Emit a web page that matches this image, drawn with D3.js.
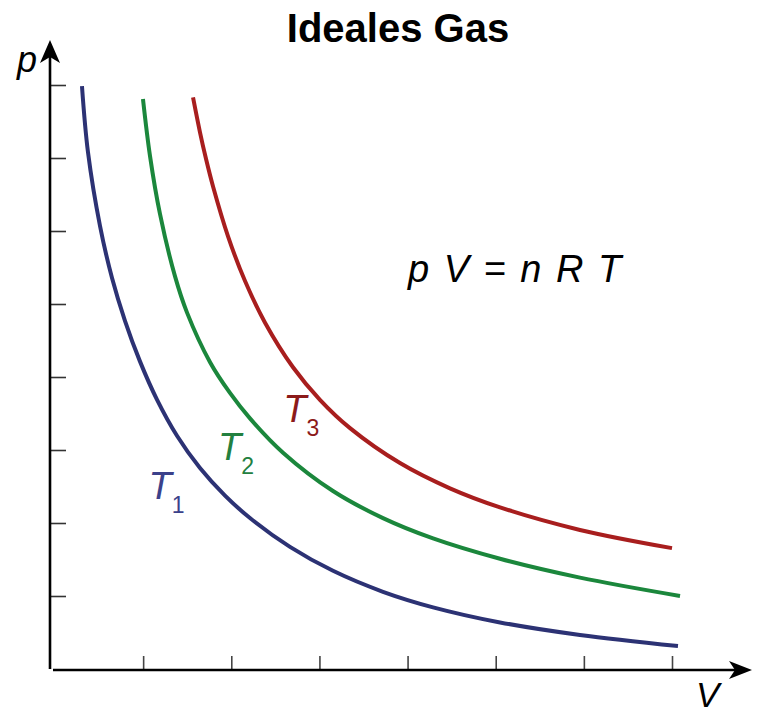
<!DOCTYPE html>
<html>
<head>
<meta charset="utf-8">
<script src="https://cdn.jsdelivr.net/npm/d3@7"></script>
<style>
  body { margin: 0; background: #fff; }
  svg text { font-family: "Liberation Sans", Arial, sans-serif; }
</style>
</head>
<body>
<svg id="chart"></svg>
<script>
// isotherms: [V, p] in tick units
const t1Points = [[0.306, 7.986], [0.374, 7.082], [0.511, 6.068], [0.647, 5.356], [0.794, 4.770],
    [0.964, 4.214], [1.157, 3.690], [1.384, 3.195], [1.645, 2.753], [1.929, 2.375], [2.212, 2.068],
    [2.666, 1.673], [3.154, 1.345], [3.721, 1.058], [4.289, 0.845], [5.049, 0.638], [5.956, 0.466],
    [7.068, 0.314]];
const t2Points = [[0.998, 7.808], [1.078, 7.026], [1.191, 6.234], [1.361, 5.382], [1.498, 4.882],
    [1.759, 4.203], [1.985, 3.782], [2.212, 3.433], [2.587, 2.963], [3.154, 2.438], [3.721, 2.067],
    [4.289, 1.789], [5.049, 1.510], [5.956, 1.252], [7.091, 1.001]];
const t3Points = [[1.566, 7.830], [1.645, 7.352], [1.713, 6.989], [1.793, 6.610], [1.963, 5.927],
    [2.156, 5.314], [2.383, 4.744], [2.700, 4.134], [3.006, 3.688], [3.347, 3.300], [3.914, 2.821],
    [4.481, 2.475], [5.049, 2.214], [5.956, 1.905], [7.000, 1.656]];

const xTicks = [1, 2, 3, 4, 5, 6, 7];
const yTicks = [1, 2, 3, 4, 5, 6, 7, 8];

const series = [
    { name: 'T', sub: '1', points: t1Points, color: '#2c3274', labelColor: '#3b418a', label: [1.06, 2.33] },
    { name: 'T', sub: '2', points: t2Points, color: '#1b873c', labelColor: '#23803f', label: [1.85, 2.86] },
    { name: 'T', sub: '3', points: t3Points, color: '#a81e1e', labelColor: '#8c1a1a', label: [2.59, 3.38] }
];

const width = 760, height = 713;
const svg = d3.select('#chart').attr('width', width).attr('height', height);

const x = d3.scaleLinear().domain([0, 7]).range([55, 672]);
const y = d3.scaleLinear().domain([0, 8]).range([669, 85]);

// title
svg.append('text')
    .attr('x', 398).attr('y', 42)
    .attr('text-anchor', 'middle')
    .attr('font-size', 40).attr('font-weight', 'bold')
    .text('Ideales Gas');

// ticks
svg.append('g')
    .attr('transform', `translate(50,0)`)
    .call(d3.axisLeft(y).tickValues(yTicks).tickSize(-16).tickFormat(''))
    .call(g => g.select('.domain').remove())
    .call(g => g.selectAll('line').attr('stroke', '#333').attr('stroke-width', 1.6));

svg.append('g')
    .attr('transform', `translate(0,${y(0)})`)
    .call(d3.axisBottom(x).tickValues(xTicks).tickSize(-13).tickFormat(''))
    .call(g => g.select('.domain').remove())
    .call(g => g.selectAll('line').attr('stroke', '#444').attr('stroke-width', 1.6));

// axis lines with arrows
svg.append('line')
    .attr('x1', 50).attr('y1', y(0)).attr('x2', 50).attr('y2', 52)
    .attr('stroke', '#000').attr('stroke-width', 2.6);
svg.append('path')
    .attr('d', 'M50,40 L60,63 L50,57 L40,63 Z')
    .attr('fill', '#000');

svg.append('line')
    .attr('x1', 53).attr('y1', y(0) + 1).attr('x2', 740).attr('y2', y(0) + 1)
    .attr('stroke', '#000').attr('stroke-width', 2.6);
svg.append('path')
    .attr('d', `M752,${y(0) + 1} L729,${y(0) + 10} L735,${y(0) + 1} L729,${y(0) - 8} Z`)
    .attr('fill', '#000');

// curves
const line = d3.line()
    .x(d => x(d[0]))
    .y(d => y(d[1]))
    .curve(d3.curveCatmullRom.alpha(0.5));

svg.selectAll('.iso')
    .data(series)
    .enter()
    .append('path')
    .attr('class', 'iso')
    .attr('d', d => line(d.points))
    .attr('fill', 'none')
    .attr('stroke', d => d.color)
    .attr('stroke-width', 4);

// curve labels
const labels = svg.selectAll('.lbl')
    .data(series)
    .enter()
    .append('text')
    .attr('class', 'lbl')
    .attr('x', d => x(d.label[0]))
    .attr('y', d => y(d.label[1]))
    .attr('fill', d => d.labelColor)
    .attr('font-size', 38)
    .attr('font-style', 'italic');
labels.append('tspan').text(d => d.name);
labels.append('tspan')
    .attr('dx', 0).attr('dy', 14)
    .attr('font-size', 23).attr('font-style', 'normal')
    .text(d => d.sub);

// axis names and formula
svg.append('text')
    .attr('x', 17).attr('y', 72)
    .attr('font-size', 36).attr('font-style', 'italic')
    .text('p');
svg.append('text')
    .attr('x', 696).attr('y', 707)
    .attr('font-size', 35).attr('font-style', 'italic')
    .text('V');
svg.append('text')
    .attr('x', 408).attr('y', 282)
    .attr('font-size', 38).attr('font-style', 'italic')
    .attr('word-spacing', 4)
    .text('p V = n R T');
</script>
</body>
</html>
